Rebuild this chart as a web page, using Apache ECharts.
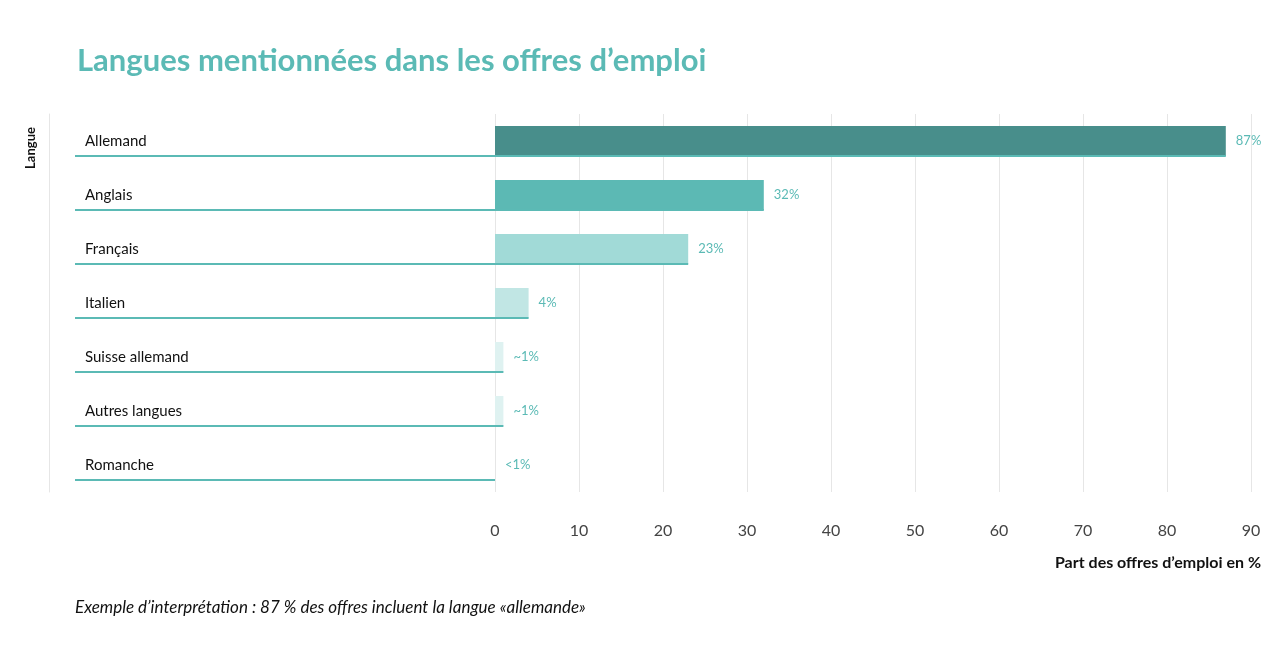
<!DOCTYPE html>
<html lang="fr">
<head>
  <meta charset="UTF-8">
  <title>Langues</title>
  <style>
    html, body { width: 100%; height: 100%; margin: 0; padding: 0; background: #fff; }
    #chart { width: 1288px; height: 666px; }
  </style>
</head>
<body>
  <div id="chart"></div>
  <script src="https://cdn.jsdelivr.net/npm/echarts@6/dist/echarts.min.js"></script>
  <script>
    var categories = ['Allemand', 'Anglais', 'Français', 'Italien', 'Suisse allemand', 'Autres langues', 'Romanche'];
    var values = [87, 32, 23, 4, 1, 1, 0];
    var valueLabels = ['87%', '32%', '23%', '4%', '~1%', '~1%', '<1%'];
    var barColors = ['#488e8b', '#5cb9b4', '#a1dad7', '#c1e6e4', '#dff2f1', '#dff2f1', '#dff2f1'];

    var teal = '#5bbab5';
    var font = 'Lato';

    // lignes verticales seulement a partir de 0 (min = -50 pour la zone des libelles)
    var splitColors = [];
    for (var i = -50; i <= 90; i += 10) {
      splitColors.push(i < 0 ? 'rgba(0,0,0,0)' : '#e6e6e6');
    }

    var chart = echarts.init(document.getElementById('chart'));

    chart.setOption({
      animation: false,
      textStyle: { fontFamily: font },
      title: [{
        text: 'Langues mentionnées dans les offres d’emploi',
        left: 77,
        top: 45,
        padding: 0,
        textStyle: { fontFamily: font, fontSize: 31, fontWeight: 'bold', color: teal }
      }, {
        text: 'Exemple d’interprétation : 87 % des offres incluent la langue «allemande»',
        left: 75,
        top: 599,
        padding: 0,
        textStyle: { fontFamily: font, fontSize: 17, fontStyle: 'italic', fontWeight: 'normal', color: '#111' }
      }],
      graphic: [{
        type: 'text',
        x: 31,
        y: 148,
        rotation: Math.PI / 2,
        style: {
          text: 'Langue',
          font: 'bold 13px Lato',
          fill: '#111',
          align: 'center',
          verticalAlign: 'middle'
        }
      }],
      grid: { left: 75, right: 37, top: 114, bottom: 174, containLabel: false },
      xAxis: {
        type: 'value',
        min: -50,
        max: 90,
        interval: 10,
        axisLine: { show: false },
        axisTick: { show: false },
        axisLabel: {
          margin: 31,
          fontSize: 16,
          color: '#444',
          formatter: function (v) { return v < 0 ? '' : String(v); }
        },
        splitLine: { show: true, lineStyle: { color: splitColors, width: 1 } },
        name: 'Part des offres d’emploi en %',
        nameLocation: 'end',
        nameGap: 10,
        nameTextStyle: {
          align: 'right',
          verticalAlign: 'top',
          fontSize: 16,
          fontWeight: 'bold',
          color: '#111',
          padding: [63, 0, 0, 0]
        }
      },
      yAxis: {
        type: 'category',
        data: categories,
        inverse: true,
        offset: 26,
        axisLine: { show: true, onZero: false, lineStyle: { color: '#e6e6e6', width: 1 } },
        axisTick: { show: false },
        axisLabel: { inside: true, margin: 36, fontSize: 15, color: '#111' },
        splitLine: { show: false }
      },
      series: [{
        type: 'bar',
        data: values.map(function (v, i) {
          return { value: v, itemStyle: { color: barColors[i] } };
        }),
        barWidth: 30,
        label: {
          show: true,
          position: 'right',
          distance: 10,
          fontSize: 13,
          color: teal,
          formatter: function (p) { return valueLabels[p.dataIndex]; }
        },
        z: 2
      }, {
        // soulignement de chaque ligne, de la zone des libelles jusqu'au bout de la barre
        type: 'custom',
        data: values.map(function (v, i) { return [v, i]; }),
        encode: { x: 0, y: 1 },
        clip: false,
        z: 3,
        renderItem: function (params, api) {
          var end = api.coord([api.value(0), api.value(1)]);
          var left = params.coordSys.x;
          return {
            type: 'rect',
            shape: { x: left, y: end[1] + 14, width: end[0] - left, height: 2 },
            style: { fill: teal }
          };
        }
      }]
    });
  </script>
</body>
</html>
